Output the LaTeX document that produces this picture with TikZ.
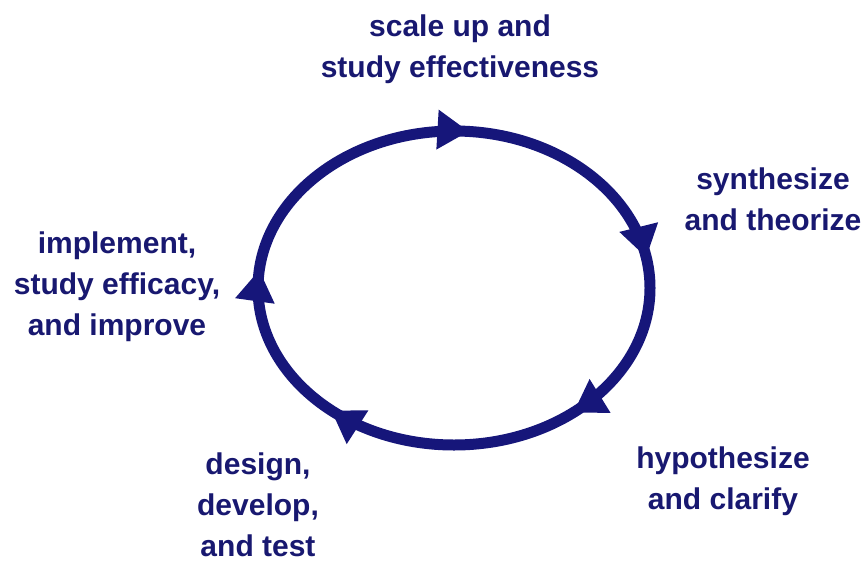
\documentclass[tikz,border=0pt]{standalone}
\usepackage{fontspec}
\setmainfont{Liberation Sans}
\usetikzlibrary{decorations.markings}
\definecolor{navy}{RGB}{22,22,122}
\definecolor{textnavy}{RGB}{24,24,112}
\tikzset{
  lbl/.style={align=center, text=textnavy, inner sep=0pt,
    font=\fontsize{30}{41}\selectfont\bfseries},
  ring/.style={draw=navy, line width=11pt},
  tri/.style={fill=navy},
}
\newcommand{\cyctri}{\fill[tri] (-31pt,20pt) -- (-31pt,-20pt) -- (0pt,0pt) -- cycle;}
\begin{document}
\begin{tikzpicture}[x=1pt,y=-1pt]
\useasboundingbox (0,0) rectangle (867,563);
\coordinate (C) at (454,288);
\coordinate (S) at (454,445);
\path[ring, postaction={decorate}, decoration={markings,
    mark=at position 0.116 with {\cyctri},
    mark=at position 0.266 with {\cyctri},
    mark=at position 0.513 with {\cyctri},
    mark=at position 0.722 with {\cyctri},
    mark=at position 0.887 with {\cyctri}}]
  (S) arc[start angle=90, end angle=450, x radius=196, y radius=157];
\node[lbl] (scale) at (460,49) {scale up and\\study effectiveness};
\node[lbl] (synth) at (773,199) {synthesize\\and theorize};
\node[lbl] (hypo) at (723,481) {hypothesize\\and clarify};
\node[lbl] (design) at (258,505) {design,\\develop,\\and test};
\node[lbl] (impl) at (117,287) {implement,\\study efficacy,\\and improve};
\end{tikzpicture}
\end{document}
